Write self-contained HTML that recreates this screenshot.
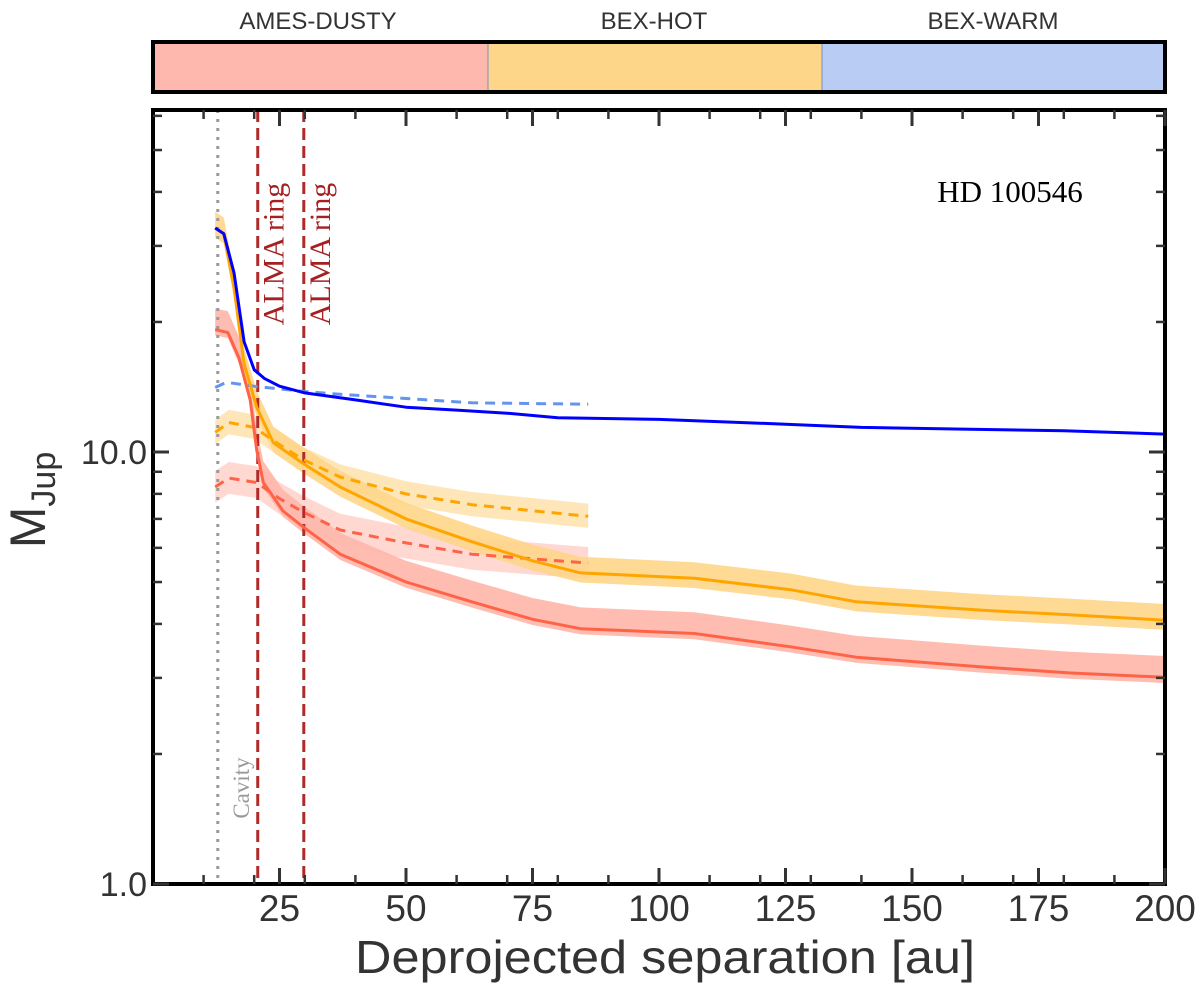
<!DOCTYPE html>
<html><head><meta charset="utf-8"><style>
html,body{margin:0;padding:0;background:#fff;}
svg{display:block;font-family:"Liberation Sans",sans-serif;}
</style></head><body>
<svg id="chart" width="1200" height="991" viewBox="0 0 1200 991" xmlns="http://www.w3.org/2000/svg">
<g>
  <rect x="153" y="42" width="335" height="50" fill="#ffb8ad"/>
  <rect x="488" y="42" width="334" height="50" fill="#fed68a"/>
  <rect x="822" y="42" width="343" height="50" fill="#b9cdf4"/>
  <line x1="488" y1="42" x2="488" y2="92" stroke="#7a8fc0" stroke-width="1"/>
  <line x1="822" y1="42" x2="822" y2="92" stroke="#7a8fc0" stroke-width="1"/>
  <rect x="153" y="42" width="1012" height="50" fill="none" stroke="#000" stroke-width="4"/>
  <text x="318" y="29" font-size="24" fill="#333" text-anchor="middle">AMES-DUSTY</text>
  <text x="654" y="29" font-size="24" fill="#333" text-anchor="middle">BEX-HOT</text>
  <text x="993" y="29" font-size="24" fill="#333" text-anchor="middle">BEX-WARM</text>
</g>
<g id="plot"></g>
<g id="axes"></g>
<text transform="translate(45,500) rotate(-90)" font-size="50" fill="#333" text-anchor="middle">M<tspan font-size="34" dy="10">Jup</tspan></text>
<text x="665" y="973" font-size="46" fill="#333" text-anchor="middle" textLength="620" lengthAdjust="spacingAndGlyphs">Deprojected separation [au]</text>
<text x="1010" y="202" font-size="31" font-family="Liberation Serif, serif" fill="#000" text-anchor="middle">HD 100546</text>
</svg>
<script>
// ---- data ----
const warmSolidX = [12.3,14,16,18,20,22,25,30,40,50,60,70,80,100,125,140,160,180,200];
const warmSolidY = [33,32,26,18,15.5,14.8,14.2,13.7,13.2,12.7,12.5,12.3,12.0,11.9,11.6,11.4,11.3,11.2,11.0];
const warmDashX = [12.3,14.5,20,30,37,50,63,86];
const warmDashY = [14.1,14.5,14.2,13.8,13.6,13.3,13.0,12.9];
const hotSolidX = [12.3,14,16,18,20.5,23.8,29.7,37,50,63,75,84.5,107,126,139,164,181,200];
const hotSolidY = [33,32,24,16,12.7,10.5,9.4,8.3,7.0,6.2,5.6,5.25,5.1,4.8,4.5,4.3,4.2,4.08];
const hotDashX = [12.3,15,20,25,29.7,37,50,63,86];
const hotDashY = [11.1,11.7,11.4,10.4,9.6,8.75,8.0,7.55,7.1];
const dustySolidX = [12.3,14.8,17,19.2,20.5,21.8,25.7,29.7,37,50,63,75,84.5,107,126,139,164,181,200];
const dustySolidY = [19.2,18.9,16.5,13.2,10.1,8.5,7.3,6.7,5.8,5.0,4.5,4.1,3.9,3.8,3.54,3.35,3.18,3.08,3.01];
const dustyDashX = [12.3,15,20.5,25,29.7,37,50,63,86];
const dustyDashY = [8.3,8.7,8.5,7.8,7.26,6.6,6.16,5.8,5.53];
const xTicks = [25,50,75,100,125,150,175,200];
const xTickLabels = ["25","50","75","100","125","150","175","200"];
const yTicks = [1,10];
const yTickLabels = ["1.0","10.0"];
const cavity = 12.8;
const almaRings = [20.7,29.8];

// ---- scales ----
const L=153,R=1165,T=110,B=884;
const X = v => L + (v-0)*(R-L)/200;
const Y = m => 884 - 432*Math.log10(m);
const NS="http://www.w3.org/2000/svg";
const plot=document.getElementById('plot'), axes=document.getElementById('axes');
function mk(tag,attrs,parent){const e=document.createElementNS(NS,tag);for(const k in attrs)e.setAttribute(k,attrs[k]);parent.appendChild(e);return e;}
function pathOf(xs,ys){return xs.map((x,i)=>(i?'L':'M')+X(x).toFixed(1)+' '+Y(ys[i]).toFixed(1)).join(' ');}
function bandOf(xs,ys,hi,lo){let d=xs.map((x,i)=>(i?'L':'M')+X(x).toFixed(1)+' '+Y(ys[i]*hi).toFixed(1)).join(' ');
  for(let i=xs.length-1;i>=0;i--)d+='L'+X(xs[i]).toFixed(1)+' '+Y(ys[i]*lo).toFixed(1);return d+'Z';}

const cp=mk('clipPath',{id:'clip'},plot);
mk('rect',{x:L,y:T,width:R-L,height:B-T},cp);
const g=mk('g',{'clip-path':'url(#clip)'},plot);

let e;
e=mk('path',{d:bandOf(dustyDashX,dustyDashY,1.09,0.92),fill:'#ffb8ad',opacity:0.55},g);


e=mk('path',{d:bandOf(hotDashX,hotDashY,1.07,0.94),fill:'#fed68a',opacity:0.6},g);


e=mk('path',{d:bandOf(dustySolidX,dustySolidY,1.12,0.97),fill:'#ffb8ad',opacity:0.95},g);


e=mk('path',{d:bandOf(hotSolidX,hotSolidY,1.09,0.95),fill:'#fed68a',opacity:0.9},g);



e=mk('line',{x1:X(cavity),x2:X(cavity),y1:T,y2:B,stroke:'#999','stroke-width':3,'stroke-dasharray':'3 6'},g);


almaRings.forEach((r,i)=>{
  const l=mk('line',{x1:X(r),x2:X(r),y1:T,y2:B,stroke:'#b02a2a','stroke-width':3,'stroke-dasharray':'12 6'},g);
  
  
  const t=mk('text',{transform:`translate(${X(r)+26},254) rotate(-90)`,'font-size':30,'font-family':'Liberation Serif, serif',fill:'#a52020','text-anchor':'middle'},g);
  t.textContent='ALMA ring';
  
  
});
e=mk('text',{transform:`translate(${X(cavity)+31},788) rotate(-90)`,'font-size':23,'font-family':'Liberation Serif, serif',fill:'#999','text-anchor':'middle'},g);
e.textContent='Cavity';



const lines=[
 [dustyDashX,dustyDashY,'#ff6347','10 7','line-ames-dusty-dashed'],
 [hotDashX,hotDashY,'#ffa500','10 7','line-bex-hot-dashed'],
 [warmDashX,warmDashY,'#6495ed','10 7','line-bex-warm-dashed'],
 [dustySolidX,dustySolidY,'#ff6347','','line-ames-dusty'],
 [hotSolidX,hotSolidY,'#ffa500','','line-bex-hot'],
 [warmSolidX,warmSolidY,'#0000ff','','line-bex-warm'],
];
lines.forEach(s=>{
  const p=mk('path',{d:pathOf(s[0],s[1]),fill:'none',stroke:s[2],'stroke-width':3,'stroke-linejoin':'round'},g);
  if(s[3])p.setAttribute('stroke-dasharray',s[3]);
  
  
});

e=mk('rect',{x:L,y:T,width:R-L,height:B-T,fill:'none',stroke:'#000','stroke-width':4},axes);


for(let v=10;v<200;v+=10){ if(v%25===0)continue;
  mk('line',{x1:X(v),x2:X(v),y1:B,y2:B-9,stroke:'#333','stroke-width':2.5},axes);
  mk('line',{x1:X(v),x2:X(v),y1:T,y2:T+9,stroke:'#333','stroke-width':2.5},axes);}
xTicks.forEach((v,i)=>{
  mk('line',{x1:X(v),x2:X(v),y1:B,y2:B-16,stroke:'#333','stroke-width':3},axes);
  mk('line',{x1:X(v),x2:X(v),y1:T,y2:T+16,stroke:'#333','stroke-width':3},axes);
  const t=mk('text',{x:X(v),y:921,'font-size':37,fill:'#333','text-anchor':'middle'},axes);
  t.textContent=xTickLabels[i];
  
  
});
[2,3,4,5,6,7,8,9,20,30,40,50,60].forEach(m=>{const y=Y(m);if(y<T)return;
  mk('line',{x1:L,x2:L+9,y1:y,y2:y,stroke:'#333','stroke-width':2.5},axes);
  mk('line',{x1:R,x2:R-9,y1:y,y2:y,stroke:'#333','stroke-width':2.5},axes);});
yTicks.forEach((m,i)=>{
  mk('line',{x1:L,x2:L+16,y1:Y(m),y2:Y(m),stroke:'#333','stroke-width':3},axes);
  mk('line',{x1:R,x2:R-16,y1:Y(m),y2:Y(m),stroke:'#333','stroke-width':3},axes);
  const t=mk('text',{x:147,y:Y(m)+12,'font-size':34,fill:'#333','text-anchor':'end'},axes);
  t.textContent=yTickLabels[i];
  
  
});
</script>
</body></html>
